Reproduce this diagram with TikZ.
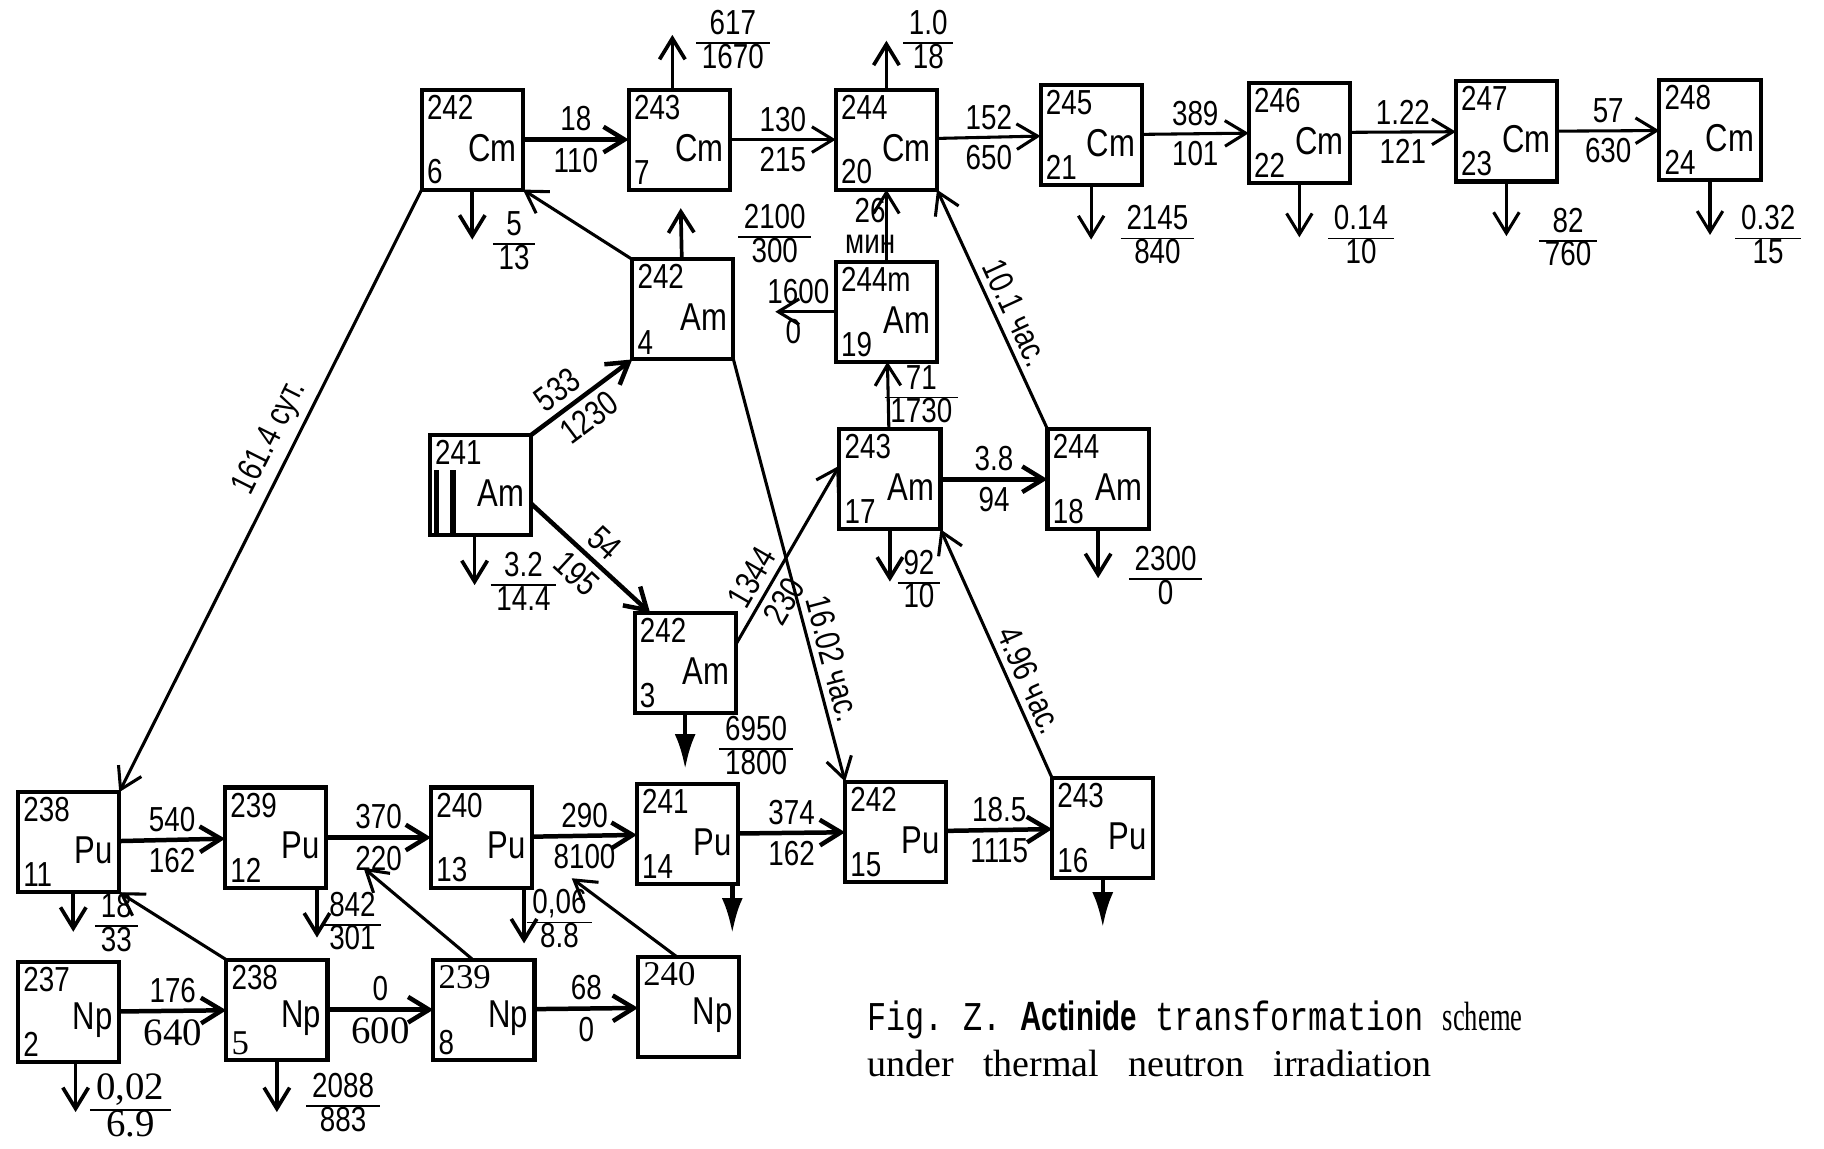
\documentclass[tikz,border=0pt]{standalone}
\usepackage{fontspec}
\setmainfont{Liberation Serif}
\newfontfamily\hand{Liberation Sans}[FakeStretch=0.8]
\newfontfamily\capmono{Liberation Mono}[FakeStretch=0.78]
\newfontfamily\capbold{Liberation Sans}[FakeStretch=0.72]
\newfontfamily\capserif{Liberation Serif}[FakeStretch=0.65]
\usetikzlibrary{arrows.meta, calc}
\newcommand{\yf}[2]{\begin{tabular}{@{\,}c@{\,}}#1\\\hline #2\end{tabular}}
\renewcommand{\arraystretch}{0.85}
\tikzset{
nbox/.style={
draw,
line width=1pt,
minimum width=8.7mm,
minimum height=8.6mm,
inner sep=0pt,
outer sep=0pt
},
mass/.style={
font=\hand\fontsize{8.5}{8.5}\selectfont,
inner sep=1.1pt
},
elem/.style={
font=\hand\fontsize{9.5}{9.5}\selectfont,
inner sep=1.4pt
},
nuc/.style n args={3}{
nbox,
label={[mass, anchor=north west]north west:#1},
label={[elem, anchor=east, yshift=-2pt]east:#2},
label={[mass, anchor=south west]south west:#3}
},
rate/.style={
font=\hand\fontsize{8.5}{7.5}\selectfont,
inner sep=1.5pt
},
serifnum/.style={
font=\rmfamily\fontsize{9.5}{9.5}\selectfont,
inner sep=1.5pt
},
capture/.style={
-{Straight Barb[length=1.8mm,width=2.2mm]},
line width=1.1pt
},
decay/.style={
-{Straight Barb[length=1.8mm,width=2.2mm]},
line width=0.75pt
},
fission/.style={
-{Straight Barb[length=1.8mm,width=2.2mm]},
line width=0.9pt
},
solidhead/.style={
-{Latex[length=3mm,width=1.8mm]},
line width=1.1pt
},
bar/.style={line width=1.3pt}
}
\begin{document}
\begin{tikzpicture}[x=0.1mm, y=-0.1mm]
\useasboundingbox (0,0) rectangle (1568,987);

% curium chain
\node[nuc={242}{Cm}{6}] (cm242) at (406,120) {};
\node[nuc={243}{Cm}{7}] (cm243) at (584,120) {};
\node[nuc={244}{Cm}{20}] (cm244) at (762,120) {};
\node[nuc={245}{Cm}{21}] (cm245) at (938,116) {};
\node[nuc={246}{Cm}{22}] (cm246) at (1117,114) {};
\node[nuc={247}{Cm}{23}] (cm247) at (1295,113) {};
\node[nuc={248}{Cm}{24}] (cm248) at (1470,112) {};

\draw[capture] (cm242) -- node[rate, above] (r18) {18} node[rate, below] (r110) {110} (cm243);
\draw[decay] (cm243) -- node[rate, above] (r130) {130} node[rate, below] (r215) {215} (cm244);
\draw[decay] (cm244) -- node[rate, above] (r152) {152} node[rate, below] (r650) {650} (cm245);
\draw[decay] (cm245) -- node[rate, above] (r389) {389} node[rate, below] (r101) {101} (cm246);
\draw[decay] (cm246) -- node[rate, above] (r122) {1.22} node[rate, below] (r121) {121} (cm247);
\draw[decay] (cm247) -- node[rate, above] (r57) {57} node[rate, below] (r630) {630} (cm248);

\draw[fission] ([xshift=-0.6mm]cm243.north) -- ++(0,-47);
\node[rate] (y617) at (630,37) {\yf{617}{1670}};
\draw[fission] (cm244.north) -- ++(0,-42);
\node[rate] (y10) at (798,37) {\yf{1.0}{18}};
\draw[fission] (cm242.south) -- ++(0,43);
\node[rate] (y5) at (442,210) {\yf{5}{13}};
\draw[decay] (cm245.south) -- ++(0,47);
\node[rate] (y2145) at (995,205) {\yf{2145}{840}};
\draw[decay] (cm246.south) -- ++(0,47);
\node[rate] (y014) at (1170,205) {\yf{0.14}{10}};
\draw[decay] (cm247.south) -- ++(0,47);
\node[rate] (y82) at (1348,207) {\yf{82}{760}};
\draw[decay] (cm248.south) -- ++(0,47);
\node[rate] (y032) at (1520,205) {\yf{0.32}{15}};

% americium
\node[nuc={242}{Am}{4}] (am242a) at (587,266) {};
\node[nuc={244m}{Am}{19}] (am244m) at (762,268) {};
\node[nuc={241}{Am}{}] (am241) at (413,417) {};
\node[nuc={243}{Am}{17}] (am243) at (765,412) {};
\node[nuc={244}{Am}{18}] (am244) at (944,412) {};
\node[nuc={242}{Am}{3}] (am242b) at (589,570) {};

\draw[bar] ([xshift=0.6mm]am241.south west) -- ++(0,-56);
\draw[bar] ([xshift=2mm]am241.south west) -- ++(0,-56);

\draw[decay] (am242a.north west) -- (cm242.south east);
\draw[fission, shorten >=1.6mm] (am242a) -- (cm243);
\draw[decay] (am244m) -- (cm244);
\draw[decay] (am244m.west) -- node[rate, above, pos=0.62] (r1600) {1600} node[rate, below, pos=0.7] (r0a) {0} ++(-52,0);
\node[rate] (y2100) at (666,204) {\yf{2100}{300}};
\node[rate, align=center] (t26) at (748,194) {26\\мин};

\draw[capture] (am241.north east) -- node[rate, above, sloped, pos=0.38] (r533) {533} node[rate, below, sloped, pos=0.45] (r1230) {1230} (am242a.south west);
\draw[capture] (am241.-20) -- node[rate, above, sloped] (r54) {54} node[rate, below, sloped] (r195) {195} (am242b.125);
\draw[fission] ([xshift=-0.5mm]am241.south) -- ++(0,43);
\node[rate] (y32) at (450,503) {\yf{3.2}{14.4}};

\draw[decay] (am242b.20) -- node[rate, above, sloped, pos=0.32] (r1344) {1344} node[rate, below, sloped, pos=0.3] (r230) {230} (am243.165);
\draw[decay] (am243) -- (am244m);
\node[rate] (y71) at (792,342) {\yf{71}{1730}};
\draw[capture] (am243) -- node[rate, above] (r38) {3.8} node[rate, below] (r94) {94} (am244);
\draw[fission] (am243.south) -- ++(0,45);
\node[rate] (y92) at (790,501) {\yf{92}{10}};
\draw[fission] (am244.south) -- ++(0,42);
\node[rate] (y2300) at (1002,498) {\yf{2300}{0}};
\draw[solidhead] (am242b.south) -- ++(0,48);
\node[rate] (y6950) at (650,644) {\yf{6950}{1800}};

% plutonium
\node[nuc={238}{Pu}{11}] (pu238) at (59,724) {};
\node[nuc={239}{Pu}{12}] (pu239) at (237,720) {};
\node[nuc={240}{Pu}{13}] (pu240) at (414,720) {};
\node[nuc={241}{Pu}{14}] (pu241) at (591,717) {};
\node[nuc={242}{Pu}{15}] (pu242) at (770,715) {};
\node[nuc={243}{Pu}{16}] (pu243) at (948,712) {};

\draw[capture] (pu238) -- node[rate, above] (r540) {540} node[rate, below] (r162a) {162} (pu239);
\draw[capture] (pu239) -- node[rate, above] (r370) {370} node[rate, below] (r220) {220} (pu240);
\draw[capture] (pu240) -- node[rate, above] (r290) {290} node[rate, below] (r8100) {8100} (pu241);
\draw[capture] (pu241) -- node[rate, above] (r374) {374} node[rate, below] (r162b) {162} (pu242);
\draw[capture] (pu242) -- node[rate, above] (r185) {18.5} node[rate, below] (r1115) {1115} (pu243);

\draw[fission] ([xshift=0.4mm]pu238.south) -- ++(0,34);
\node[rate] (y18) at (100,796) {\yf{18}{33}};
\draw[fission] ([xshift=-0.8mm]pu239.south east) -- ++(0,43);
\node[rate] (y842) at (303,795) {\yf{842}{301}};
\draw[fission] ([xshift=-0.7mm]pu240.south east) -- ++(0,48);
\node[rate] (y006) at (481,793) {\yf{0,06}{8.8}};
\draw[solidhead] ([xshift=-0.5mm]pu241.south east) -- ++(0,42);
\draw[solidhead] (pu243.south) -- ++(0,42);

% long decays
\draw[decay] (cm242.south west) -- node[rate, above, sloped, pos=0.43] (t1614) {161.4 сут.} (pu238.north east);
\draw[decay] (am242a.south east) -- node[rate, above, sloped, pos=0.72] (t1602) {16.02 час.} (pu242.north west);
\draw[decay] (am244.north west) -- node[rate, above, sloped, pos=0.45] (t101) {10.1 час.} (cm244.south east);
\draw[decay] (pu243.north west) -- node[rate, above, sloped, pos=0.36] (t496) {4.96 час.} (am243.south east);

% neptunium
\node[nuc={237}{Np}{2}] (np237) at (59,870) {};
\node[nuc={238}{Np}{\rmfamily 5}] (np238) at (238,868) {};
\node[nuc={\rmfamily 239}{Np}{8}] (np239) at (416,868) {};
\node[nuc={\rmfamily 240}{Np}{}] (np240) at (592,866) {};

\draw[capture] (np237) -- node[rate, above] (r176) {176} node[serifnum, below] (r640) {640} (np238);
\draw[capture] (np238) -- node[rate, above] (r0b) {0} node[serifnum, below] (r600) {600} (np239);
\draw[capture] (np239) -- node[rate, above] (r68) {68} node[rate, below] (r0c) {0} (np240);
\draw[decay] (np238.north west) -- (pu238.south east);
\draw[decay] ([xshift=3.4mm]np239.north west) -- ([xshift=3.2mm, yshift=1.7mm]pu239.south east);
\draw[decay] ([xshift=3.4mm]np240.north west) -- ([xshift=3.4mm, yshift=0.8mm]pu240.south east);

\draw[fission] ([xshift=0.6mm]np237.south) -- ++(0,43);
\node[serifnum] (y002) at (112,954) {\yf{0,02}{6.9}};
\draw[fission] (np238.south) -- ++(0,45);
\node[rate] (y2088) at (295,951) {\yf{2088}{883}};

% caption
\node[anchor=west, inner sep=0pt] (cap1) at (745,877) {{\capmono\fontsize{10}{10}\selectfont Fig.~Z.~}{\capbold\bfseries\fontsize{10}{10}\selectfont Actinide}{\capmono\fontsize{10}{10}\selectfont~transformation~}{\capserif\fontsize{10}{10}\selectfont scheme}};
\node[anchor=west, inner sep=0pt] (cap2) at (745,914) {\fontsize{9.3}{10}\selectfont under\hspace{0.25cm}thermal\hspace{0.25cm}neutron\hspace{0.25cm}irradiation};

\end{tikzpicture}
\end{document}
